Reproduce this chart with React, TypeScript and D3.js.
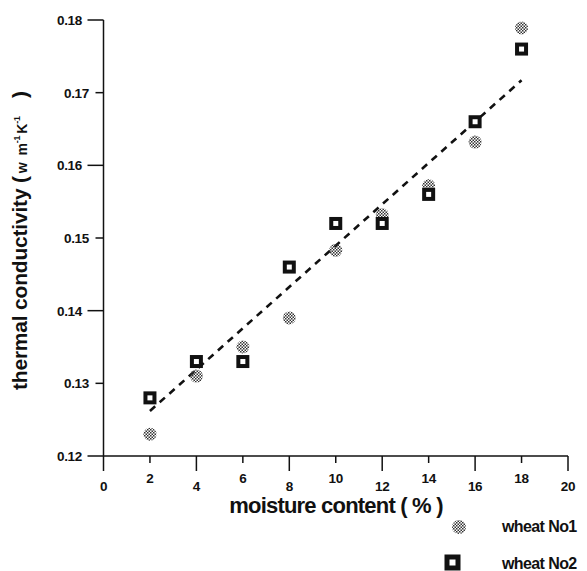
import React from "react";
import * as d3 from "d3";

// moisture content (%)
const moisture = [2, 4, 6, 8, 10, 12, 14, 16, 18];
// thermal conductivity, W m-1 K-1
const wheatNo1 = [0.123, 0.131, 0.135, 0.139, 0.1483, 0.1532, 0.1572, 0.1632, 0.1789];
const wheatNo2 = [0.128, 0.133, 0.133, 0.146, 0.152, 0.152, 0.156, 0.166, 0.176];
// fitted line end points
const fitX = [2, 18];
const fitY = [0.1262, 0.1717];

const xTicks = [0, 2, 4, 6, 8, 10, 12, 14, 16, 18, 20];
const yTicks = [0.12, 0.13, 0.14, 0.15, 0.16, 0.17, 0.18];

const FONT = "'Liberation Sans', Arial, sans-serif";

const App = () => {
  const x = d3.scaleLinear().domain([0, 20]).range([103.5, 568]);
  const y = d3.scaleLinear().domain([0.12, 0.18]).range([456, 20]);

  const line = d3
    .line<number>()
    .x((d, i) => x(fitX[i]))
    .y((d) => y(d));

  const isMajorX = (v: number) => v % 4 === 0;
  const isMajorY = (v: number) => Math.round(v * 100) % 2 === 0;

  return (
    <svg
      width={587}
      height={571}
      style={{ position: "absolute", left: 0, top: 0, background: "#fff" }}
    >
      <defs>
        <pattern id="stip" width={3} height={3} patternUnits="userSpaceOnUse">
          <rect x={0} y={0} width={1.5} height={1.5} fill="#333" />
          <rect x={1.5} y={1.5} width={1.5} height={1.5} fill="#333" />
        </pattern>
      </defs>

      {/* axes */}
      <g stroke="#111" strokeWidth={1.5}>
        <line x1={x(0)} x2={x(0)} y1={y(0.18)} y2={y(0.12)} />
        <line x1={x(0)} x2={x(20)} y1={y(0.12)} y2={y(0.12)} />
        {xTicks.map((t) => (
          <line
            key={"xt" + t}
            x1={x(t)}
            x2={x(t)}
            y1={y(0.12)}
            y2={y(0.12) + (isMajorX(t) ? 15 : 7)}
          />
        ))}
        {yTicks.map((t) => (
          <line
            key={"yt" + t}
            x1={x(0)}
            x2={x(0) - (isMajorY(t) ? 16 : 8)}
            y1={y(t)}
            y2={y(t)}
          />
        ))}
      </g>

      <g fontFamily={FONT} fontWeight="bold" fontSize={13.5} fill="#111">
        {xTicks.map((t) => (
          <text
            key={"xl" + t}
            x={x(t)}
            y={isMajorX(t) ? 491 : 483}
            textAnchor="middle"
            letterSpacing={-0.3}
          >
            {t}
          </text>
        ))}
        {yTicks.map((t) => (
          <text
            key={"yl" + t}
            x={isMajorY(t) ? 82 : 89}
            y={y(t) + 5}
            textAnchor="end"
            letterSpacing={-0.3}
          >
            {t.toFixed(2)}
          </text>
        ))}
      </g>

      {/* axis titles */}
      <text
        x={336}
        y={513}
        textAnchor="middle"
        fontFamily={FONT}
        fontWeight="bold"
        fontSize={22}
        letterSpacing={-0.8}
        fill="#111"
      >
        moisture content ( % )
      </text>
      <text
        transform="translate(27,390) rotate(-90)"
        fontFamily={FONT}
        fontWeight="bold"
        fontSize={21}
        letterSpacing={-0.2}
        fill="#111"
      >
        thermal conductivity (
        <tspan fontSize={14} dx={3}>w</tspan>
        <tspan fontSize={14} dx={7}>m</tspan>
        <tspan fontSize={9} dy={-7}>-1</tspan>
        <tspan fontSize={14} dy={7} dx={2}>K</tspan>
        <tspan fontSize={9} dy={-7}>-1</tspan>
        <tspan dy={7} dx={18}>)</tspan>
      </text>

      {/* fitted line */}
      <path
        d={line(fitY) || ""}
        fill="none"
        stroke="#111"
        strokeWidth={2.6}
        strokeDasharray="7 6"
      />

      {/* wheat No1 */}
      {moisture.map((m, i) => (
        <circle
          key={"c" + m}
          cx={x(m)}
          cy={y(wheatNo1[i])}
          r={6.5}
          fill="url(#stip)"
        />
      ))}

      {/* wheat No2 */}
      {moisture.map((m, i) => (
        <rect
          key={"s" + m}
          x={x(m) - 4.5}
          y={y(wheatNo2[i]) - 4.5}
          width={9}
          height={9}
          fill="#fff"
          stroke="#111"
          strokeWidth={4}
        />
      ))}

      {/* legend */}
      <circle cx={459} cy={527} r={7} fill="url(#stip)" />
      <rect x={447} y={557} width={11} height={11} fill="#fff" stroke="#111" strokeWidth={5} />
      <g fontFamily={FONT} fontWeight="bold" fontSize={16} letterSpacing={-0.6} fill="#111">
        <text x={502} y={532}>wheat No1</text>
        <text x={502} y={569}>wheat No2</text>
      </g>
    </svg>
  );
};

export default App;
